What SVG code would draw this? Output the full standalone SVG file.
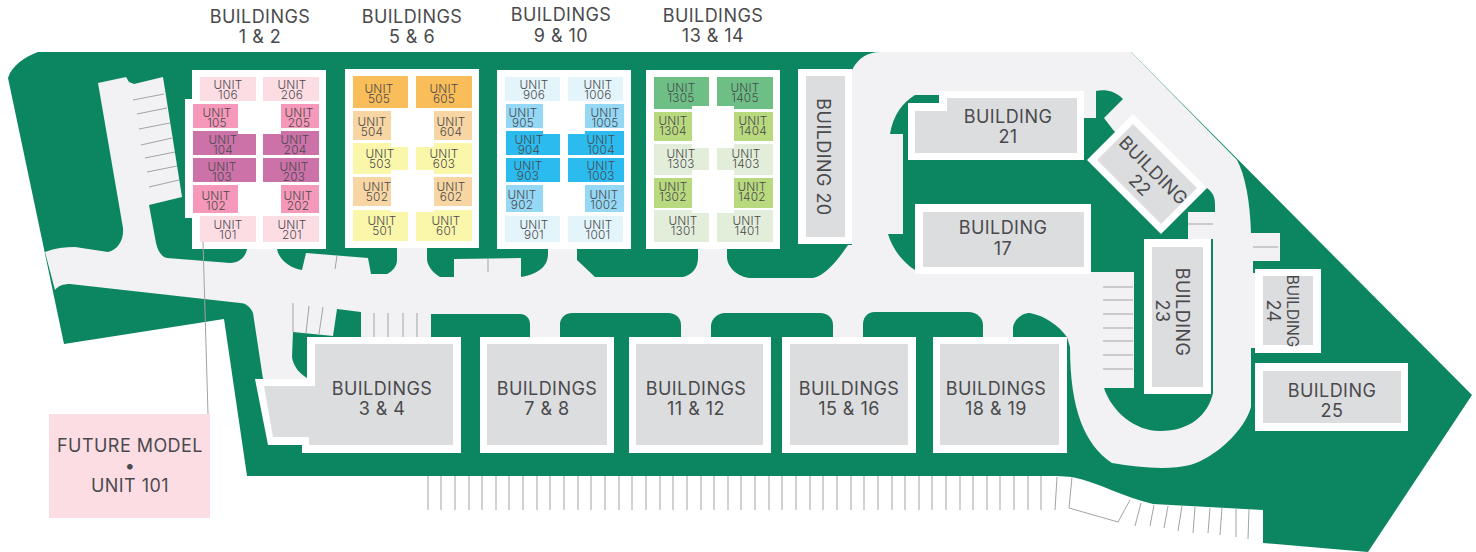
<svg xmlns="http://www.w3.org/2000/svg" width="1476" height="552" viewBox="0 0 1476 552">
<style>
text{font-family:"Inter","Liberation Sans",sans-serif;fill:#4a4a4d;text-anchor:middle}
.t{font-size:18px;letter-spacing:.45px}
.u{font-size:11.8px;letter-spacing:.25px;font-weight:300}
.w{fill:#fff}
.g{fill:#dcddDF}
.grn{fill:#0c8660}
.rd{fill:#f2f2f4}
.ln{stroke:#a3a3a5;stroke-width:1;fill:none}
.p1{fill:#fddde4}.p2{fill:#f598b9}.p3{fill:#cc72a8}
.o1{fill:#f9bd59}.o2{fill:#f8d6a3}.o3{fill:#faf6aa}
.b1{fill:#e4f4fb}.b2{fill:#94d8f6}.b3{fill:#2bbbee}
.n1{fill:#6dbf85}.n2{fill:#b9d97f}.n3{fill:#e2eeda}
</style>
<g id="site">
<path class="grn" d="M8,78C12,65 25,57 38,52L1131,52L1472,395L1368,552L1263,543L1263,510L1153,504C1123,497 1100,483 1072,477L1057,476L247,476L224,319L64,344Z"/>
<path class="rd" d="M45,252C55,248 65,247 75,247L108,252C118,250 124,240 123,228L98,83L126,77L129,82L134,84L163,77L182,197L149,205L156,243C158,252 162,257 167,258L230,263C240,263 246,256 247,249L277,249C279,260 290,268 302,270L306,253L368,258L371,274L387,274C393,271 397,266 397,260L397,248L427,248L427,260C428,268 435,274 440,277L454,277L454,259L521,258L521,277C535,275 548,268 548,254L548,248L577,248L577,260L595,277L683,277C692,275 698,268 698,258L698,248L727,248L727,258C728,268 738,277 750,278L813,278C825,276 838,260 848,245L852,245L852,70C858,58 868,52 880,52L1131,52L1237,160C1245,175 1250,200 1251,233L1280,233L1280,261L1253,261L1253,273L1255,273L1255,348L1251,348L1251,407C1245,430 1215,458 1190,465C1170,470 1140,468 1112,463C1085,445 1070,410 1070,347L1067,337L361,337L361,312L337,309L333,336L293,332L292,357C293,366 300,374 307,378L307,379L263,379L253,313C250,306 245,303 240,303L70,284C63,284 58,286 55,290Z"/>
<path class="grn" d="M903,134L890,134C893,115 903,102 915,95L1083,95L1083,118L1096,118L1096,91C1103,89 1115,90 1123,99L1104,118L1114,131L1207,188C1212,192 1215,196 1215,204L1215,212L1188,212L1188,239L1213,239L1213,393C1208,415 1190,431 1160,431C1135,431 1112,412 1104,388L1134,388L1134,272L1091,272L1091,274L915,270C902,262 892,248 888,234L903,234Z"/>
<path class="grn" d="M1013,337L1013,327C1015,318 1023,313 1030,313C1045,316 1058,325 1067,337Z"/>
<path class="grn" d="M863,337L863,323C864,316 868,312 875,312L968,312C977,312 983,318 983,325L983,337Z"/>
<path class="grn" d="M711,337L711,325C712,318 718,313 725,313L820,313C828,313 833,318 833,325L833,337Z"/>
<path class="grn" d="M560,337L560,323C561,317 566,313 572,313L668,313C676,313 681,318 681,325L681,337Z"/>
<path class="grn" d="M431,337L431,314L520,314C526,314 530,318 530,325L530,337Z"/>
<g class="ln">
<path d="M133,100L164,94M137,114L167,108M139,129L170,123M141,145L172,138M145,158L175,152M147,172L177,166M149,187L179,180"/>
<path d="M337,256L335,269M488,259V272M293,303V332M309,306L306,333M323,307L319,334M374,313V337M388,313V337M403,313V337M417,313V337"/>
<path d="M1103,287H1133M1103,300H1133M1103,314H1133M1103,328H1133M1103,341H1133M1103,355H1133M1103,369H1133M1188,224H1213M1253,247H1278"/>
<path d="M428,476V510M441,476V510M455,476V510M469,476V510M482,476V510M496,476V510M509,476V510M523,476V510M537,476V510M550,476V510M564,476V510M578,476V510M591,476V510M605,476V510M619,476V510M632,476V510M646,476V510M660,476V510M673,476V510M687,476V510M701,476V510M714,476V510M728,476V510M741,476V510M755,476V510M769,476V510M782,476V510M796,476V510M810,476V510M823,476V510M837,476V510M851,476V510M864,476V510M878,476V510M892,476V510M905,476V510M919,476V510M932,476V510M946,476V510M960,476V510M973,476V510M987,476V510M1000,476V510M1014,476V510M1028,476V510M1041,476V510"/>
<path d="M1057,477L1055,510M1072,477L1069,508L1118,522L1130,500M1141,503L1135,526M1154,505L1150,526M1168,506L1164,528M1182,506L1178,531M1195,507L1193,533M1210,508L1208,533M1222,508L1220,535M1236,509V537M1249,509L1248,539"/>
</g>
</g>
<g id="buildings-1-2">
<path class="w" d="M192,70H326V249H192V218H185V99H192Z"/>
<text class="t" x="260" y="23">BUILDINGS</text><text class="t" x="260" y="43">1 &amp; 2</text>
</g>
<g id="unit-106"><rect class="p1" x="200" y="77" width="56" height="24"/><text class="u" x="228" y="89">UNIT</text><text class="u" x="228" y="99">106</text></g>
<g id="unit-206"><rect class="p1" x="263" y="77" width="56" height="24"/><text class="u" x="292" y="89">UNIT</text><text class="u" x="292" y="99">206</text></g>
<g id="unit-105"><rect class="p2" x="193" y="104" width="45" height="24"/><text class="u" x="217" y="117">UNIT</text><text class="u" x="217" y="127">105</text></g>
<g id="unit-205"><rect class="p2" x="281" y="104" width="38" height="24"/><text class="u" x="299" y="117">UNIT</text><text class="u" x="299" y="127">205</text></g>
<g id="unit-104"><path class="p3" d="M193,131H238V134H256V155H193Z"/><text class="u" x="223" y="144">UNIT</text><text class="u" x="223" y="154">104</text></g>
<g id="unit-204"><path class="p3" d="M263,134H281V131H319V155H263Z"/><text class="u" x="295" y="144">UNIT</text><text class="u" x="295" y="154">204</text></g>
<g id="unit-103"><rect class="p3" x="193" y="158" width="63" height="24"/><text class="u" x="222" y="171">UNIT</text><text class="u" x="222" y="181">103</text></g>
<g id="unit-203"><rect class="p3" x="263" y="158" width="56" height="24"/><text class="u" x="294" y="171">UNIT</text><text class="u" x="294" y="181">203</text></g>
<g id="unit-102"><rect class="p2" x="193" y="185" width="45" height="28"/><text class="u" x="216" y="200">UNIT</text><text class="u" x="216" y="210">102</text></g>
<g id="unit-202"><rect class="p2" x="281" y="185" width="38" height="28"/><text class="u" x="298" y="200">UNIT</text><text class="u" x="298" y="210">202</text></g>
<g id="unit-101"><rect class="p1" x="200" y="216" width="56" height="26"/><text class="u" x="228" y="229">UNIT</text><text class="u" x="228" y="239">101</text></g>
<g id="unit-201"><rect class="p1" x="263" y="216" width="56" height="26"/><text class="u" x="292" y="229">UNIT</text><text class="u" x="292" y="239">201</text></g>

<g id="buildings-5-6">
<rect class="w" x="345" y="69" width="134" height="179"/>
<text class="t" x="412" y="23">BUILDINGS</text><text class="t" x="412" y="43">5 &amp; 6</text>
</g>
<g id="unit-505"><rect class="o1" x="353" y="76" width="55" height="32"/><text class="u" x="379" y="93">UNIT</text><text class="u" x="379" y="103">505</text></g>
<g id="unit-605"><rect class="o1" x="416" y="76" width="56" height="32"/><text class="u" x="444" y="93">UNIT</text><text class="u" x="444" y="103">605</text></g>
<g id="unit-504"><rect class="o2" x="353" y="111" width="38" height="29"/><text class="u" x="372" y="126">UNIT</text><text class="u" x="372" y="136">504</text></g>
<g id="unit-604"><rect class="o2" x="434" y="111" width="38" height="29"/><text class="u" x="451" y="126">UNIT</text><text class="u" x="451" y="136">604</text></g>
<g id="unit-503"><path class="o3" d="M353,143H391V147H408V170H391V174H353Z"/><text class="u" x="380" y="158">UNIT</text><text class="u" x="380" y="168">503</text></g>
<g id="unit-603"><path class="o3" d="M434,143H472V174H434V170H416V147H434Z"/><text class="u" x="444" y="158">UNIT</text><text class="u" x="444" y="168">603</text></g>
<g id="unit-502"><rect class="o2" x="353" y="177" width="38" height="29"/><text class="u" x="377" y="191">UNIT</text><text class="u" x="377" y="201">502</text></g>
<g id="unit-602"><rect class="o2" x="434" y="177" width="38" height="29"/><text class="u" x="451" y="191">UNIT</text><text class="u" x="451" y="201">602</text></g>
<g id="unit-501"><path class="o3" d="M353,210H391V212H408V241H353Z"/><text class="u" x="382" y="225">UNIT</text><text class="u" x="382" y="235">501</text></g>
<g id="unit-601"><path class="o3" d="M416,212H434V210H472V241H416Z"/><text class="u" x="446" y="225">UNIT</text><text class="u" x="446" y="235">601</text></g>

<g id="buildings-9-10">
<rect class="w" x="497" y="70" width="134" height="179"/>
<text class="t" x="561" y="21">BUILDINGS</text><text class="t" x="561" y="42">9 &amp; 10</text>
</g>
<g id="unit-906"><rect class="b1" x="505" y="77" width="55" height="24"/><text class="u" x="534" y="89">UNIT</text><text class="u" x="534" y="99">906</text></g>
<g id="unit-1006"><rect class="b1" x="568" y="77" width="55" height="24"/><text class="u" x="598" y="89">UNIT</text><text class="u" x="598" y="99">1006</text></g>
<g id="unit-905"><rect class="b2" x="506" y="104" width="37" height="24"/><text class="u" x="523" y="117">UNIT</text><text class="u" x="523" y="127">905</text></g>
<g id="unit-1005"><rect class="b2" x="585" y="104" width="39" height="24"/><text class="u" x="605" y="117">UNIT</text><text class="u" x="605" y="127">1005</text></g>
<g id="unit-904"><path class="b3" d="M506,131H543V134H560V155H506Z"/><text class="u" x="529" y="144">UNIT</text><text class="u" x="529" y="154">904</text></g>
<g id="unit-1004"><path class="b3" d="M568,134H585V131H624V155H568Z"/><text class="u" x="601" y="144">UNIT</text><text class="u" x="601" y="154">1004</text></g>
<g id="unit-903"><rect class="b3" x="506" y="158" width="54" height="24"/><text class="u" x="528" y="170">UNIT</text><text class="u" x="528" y="180">903</text></g>
<g id="unit-1003"><rect class="b3" x="568" y="158" width="56" height="24"/><text class="u" x="601" y="170">UNIT</text><text class="u" x="601" y="180">1003</text></g>
<g id="unit-902"><rect class="b2" x="506" y="185" width="37" height="27"/><text class="u" x="522" y="199">UNIT</text><text class="u" x="522" y="209">902</text></g>
<g id="unit-1002"><rect class="b2" x="585" y="185" width="39" height="27"/><text class="u" x="604" y="199">UNIT</text><text class="u" x="604" y="209">1002</text></g>
<g id="unit-901"><rect class="b1" x="505" y="216" width="55" height="26"/><text class="u" x="534" y="229">UNIT</text><text class="u" x="534" y="239">901</text></g>
<g id="unit-1001"><rect class="b1" x="568" y="216" width="55" height="26"/><text class="u" x="598" y="229">UNIT</text><text class="u" x="598" y="239">1001</text></g>

<g id="buildings-13-14">
<rect class="w" x="646" y="70" width="134" height="179"/>
<text class="t" x="713" y="22">BUILDINGS</text><text class="t" x="713" y="42">13 &amp; 14</text>
</g>
<g id="unit-1305"><path class="n1" d="M654,77H709V106H692V109H654Z"/><text class="u" x="681" y="92">UNIT</text><text class="u" x="681" y="102">1305</text></g>
<g id="unit-1405"><path class="n1" d="M717,77H773V109H734V106H717Z"/><text class="u" x="745" y="92">UNIT</text><text class="u" x="745" y="102">1405</text></g>
<g id="unit-1304"><rect class="n2" x="654" y="112" width="38" height="29"/><text class="u" x="673" y="125">UNIT</text><text class="u" x="673" y="135">1304</text></g>
<g id="unit-1404"><rect class="n2" x="734" y="112" width="39" height="29"/><text class="u" x="753" y="125">UNIT</text><text class="u" x="753" y="135">1404</text></g>
<g id="unit-1303"><path class="n3" d="M654,144H692V148H709V170H692V175H654Z"/><text class="u" x="681" y="158">UNIT</text><text class="u" x="681" y="168">1303</text></g>
<g id="unit-1403"><path class="n3" d="M734,144H773V175H734V170H717V148H734Z"/><text class="u" x="746" y="158">UNIT</text><text class="u" x="746" y="168">1403</text></g>
<g id="unit-1302"><rect class="n2" x="654" y="178" width="38" height="30"/><text class="u" x="673" y="191">UNIT</text><text class="u" x="673" y="201">1302</text></g>
<g id="unit-1402"><rect class="n2" x="734" y="178" width="39" height="30"/><text class="u" x="752" y="191">UNIT</text><text class="u" x="752" y="201">1402</text></g>
<g id="unit-1301"><path class="n3" d="M654,210H692V213H709V242H654Z"/><text class="u" x="683" y="225">UNIT</text><text class="u" x="683" y="235">1301</text></g>
<g id="unit-1401"><path class="n3" d="M717,213H734V210H773V242H717Z"/><text class="u" x="747" y="225">UNIT</text><text class="u" x="747" y="235">1401</text></g>

<g id="building-20"><rect class="w" x="798" y="69" width="54" height="175"/><rect class="g" x="806" y="76" width="39" height="161"/><text class="t" transform="translate(817,157) rotate(90)">BUILDING 20</text></g>
<g id="building-21"><path class="w" d="M908,103H939V91H1084V160H908Z"/><path class="g" d="M915,111H947V98H1077V153H915Z"/><text class="t" x="1008" y="123">BUILDING</text><text class="t" x="1008" y="143">21</text></g>
<g id="building-17"><rect class="w" x="915" y="204" width="176" height="70"/><rect class="g" x="923" y="212" width="161" height="55"/><text class="t" x="1003" y="234">BUILDING</text><text class="t" x="1003" y="255">17</text></g>
<g id="building-22"><path class="w" d="M1133,114L1207,188L1161,234L1087,160Z"/><path class="g" d="M1133,124L1197,188L1161,224L1097,160Z"/><text class="t" transform="translate(1149,175) rotate(45)">BUILDING</text><text class="t" transform="translate(1135.5,189.5) rotate(45)">22</text></g>
<g id="building-23"><rect class="w" x="1144" y="239" width="67" height="155"/><rect class="g" x="1152" y="247" width="51" height="140"/><text class="t" transform="translate(1176,312) rotate(90)">BUILDING</text><text class="t" transform="translate(1156,311) rotate(90)">23</text></g>
<g id="building-24"><rect class="w" x="1255" y="269" width="66" height="84"/><rect class="g" x="1263" y="276" width="50" height="69"/><text style="font-size:15.4px;letter-spacing:0" transform="translate(1287,311) rotate(90)">BUILDING</text><text class="t" transform="translate(1267,311) rotate(90)">24</text></g>
<g id="building-25"><rect class="w" x="1255" y="363" width="153" height="68"/><rect class="g" x="1263" y="371" width="138" height="52"/><text class="t" x="1332" y="397">BUILDING</text><text class="t" x="1332" y="417">25</text></g>
<g id="buildings-3-4"><path class="w" d="M255,379H307V337H461V453H302V445H268Z"/><path class="g" d="M264,386H315V344H453V445H309V437H273Z"/><text class="t" x="382" y="395">BUILDINGS</text><text class="t" x="382" y="415">3 &amp; 4</text></g>
<g id="buildings-7-8"><rect class="w" x="480" y="337" width="134" height="116"/><rect class="g" x="487" y="344" width="120" height="101"/><text class="t" x="547" y="395">BUILDINGS</text><text class="t" x="547" y="415">7 &amp; 8</text></g>
<g id="buildings-11-12"><rect class="w" x="629" y="337" width="142" height="116"/><rect class="g" x="636" y="344" width="127" height="101"/><text class="t" x="696" y="395">BUILDINGS</text><text class="t" x="696" y="415">11 &amp; 12</text></g>
<g id="buildings-15-16"><rect class="w" x="782" y="337" width="134" height="116"/><rect class="g" x="790" y="344" width="118" height="101"/><text class="t" x="849" y="395">BUILDINGS</text><text class="t" x="849" y="415">15 &amp; 16</text></g>
<g id="buildings-18-19"><rect class="w" x="933" y="337" width="134" height="116"/><rect class="g" x="940" y="344" width="119" height="101"/><text class="t" x="996" y="395">BUILDINGS</text><text class="t" x="996" y="415">18 &amp; 19</text></g>
<g id="connectors"><path class="ln" d="M203,242L208,414"/></g>
<g id="future-model"><rect class="p1" x="49" y="414" width="161" height="104"/><text class="t" x="130" y="452">FUTURE MODEL</text><text class="t" x="130" y="472">•</text><text class="t" x="130" y="492">UNIT 101</text></g>
</svg>
